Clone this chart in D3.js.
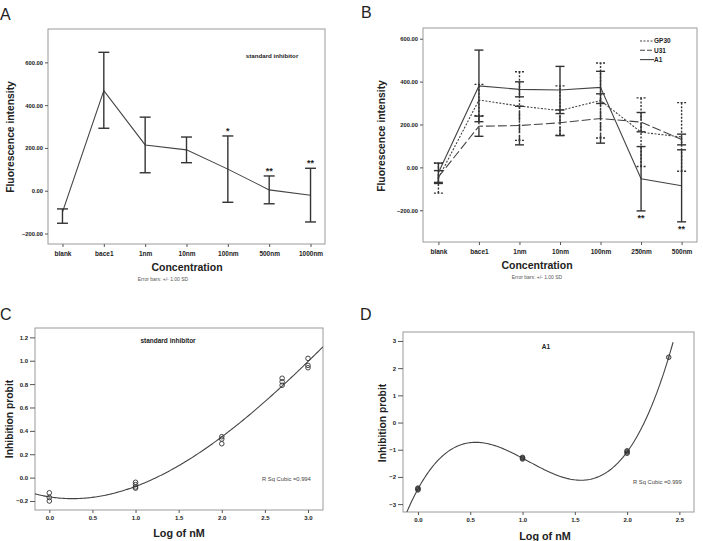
<!DOCTYPE html>
<html>
<head>
<meta charset="utf-8">
<script src="https://cdn.jsdelivr.net/npm/d3@7"></script>
<style>
  body { margin: 0; background: #fff; }
  svg { font-family: "Liberation Sans", Arial, sans-serif; }
</style>
</head>
<body>
<svg id="chart" width="703" height="541"></svg>
<script>
// ---- panel A: standard inhibitor
const categoriesA = ['blank', 'bace1', '1nm', '10nm', '100nm', '500nm', '1000nm'];
const meanA = [-100, 468, 214, 191, 101, 4, -21];
const lowA = [-152, 292, 84, 131, -54, -61, -146];
const highA = [-85, 647, 344, 251, 256, 69, 105];
const starsA = ['', '', '', '', '*', '**', '**'];

// ---- panel B: three compounds, mean +/- 1 SD
const categoriesB = ['blank', 'bace1', '1nm', '10nm', '100nm', '250nm', '500nm'];
const seriesB = ['GP30', 'U31', 'A1'];
const meanGP30 = [-50, 314, 286, 265, 312, 164, 142];
const sdGP30 = [70, 73, 160, 115, 175, 160, 160];
const meanU31 = [-45, 192, 195, 208, 228, 211, 130];
const sdU31 = [30, 47, 90, 60, 115, 45, 25];
const meanA1 = [-25, 380, 364, 361, 373, -53, -86];
const sdA1 = [45, 167, 35, 110, 75, 150, 168];
const starsB = ['', '', '', '', '', '**', '**'];

const ticksAB = [600, 400, 200, 0, -200];

// ---- panel C: probit vs log concentration, standard inhibitor
const logC = [0, 0, 0, 1, 1, 1, 1, 2, 2, 2, 2.7, 2.7, 2.7, 3, 3, 3];
const probitC = [-0.13, -0.17, -0.20, -0.04, -0.06, -0.08, -0.09, 0.35, 0.33, 0.29, 0.85, 0.82, 0.79, 1.02, 0.96, 0.94];
const ticksCy = [-0.2, 0, 0.2, 0.4, 0.6, 0.8, 1.0, 1.2];
const ticksCx = [0, 0.5, 1, 1.5, 2, 2.5, 3];

// ---- panel D: probit vs log concentration, A1
const logD = [0, 0, 0, 1, 1, 1, 2, 2, 2, 2.398];
const probitD = [-2.41, -2.44, -2.48, -1.28, -1.31, -1.34, -1.04, -1.08, -1.13, 2.40];
const ticksDy = [-3, -2, -1, 0, 1, 2, 3];
const ticksDx = [0, 0.5, 1, 1.5, 2, 2.5];

const svg = d3.select('#chart');
const ink = '#333';
const frameColor = '#9a9a9a';

function drawFrame(f) {
  svg.append('rect')
    .attr('x', f.x0).attr('y', f.y0)
    .attr('width', f.x1 - f.x0).attr('height', f.y1 - f.y0)
    .attr('fill', 'none').attr('stroke', frameColor).attr('stroke-width', 1);
}

function styleAxis(g, size) {
  g.select('.domain').remove();
  g.selectAll('line').attr('stroke', '#555');
  g.selectAll('text')
    .attr('fill', '#222')
    .attr('font-size', size)
    .attr('font-weight', 'bold');
}

function panelLabel(txt, x, y) {
  svg.append('text').attr('x', x).attr('y', y)
    .attr('font-size', 16).attr('fill', '#222').text(txt);
}

function axisTitles(xt, xx, xy, yt, yx, yy, size) {
  svg.append('text').attr('x', xx).attr('y', xy)
    .attr('text-anchor', 'middle').attr('font-weight', 'bold')
    .attr('font-size', size.x).attr('fill', '#222').text(xt);
  svg.append('text')
    .attr('transform', `translate(${yx},${yy}) rotate(-90)`)
    .attr('text-anchor', 'middle').attr('font-weight', 'bold')
    .attr('font-size', size.y).attr('fill', '#222').text(yt);
}

function errorBar(g, x, lo, hi, capW, dash) {
  const bar = g.append('g')
    .attr('stroke', ink).attr('stroke-width', 1.4)
    .attr('stroke-dasharray', dash);
  bar.append('line').attr('x1', x).attr('x2', x).attr('y1', lo).attr('y2', hi);
  bar.append('line').attr('x1', x - capW / 2).attr('x2', x + capW / 2).attr('y1', lo).attr('y2', lo);
  bar.append('line').attr('x1', x - capW / 2).attr('x2', x + capW / 2).attr('y1', hi).attr('y2', hi);
}

// least squares cubic fit (SPSS "Cubic" curve estimation)
function cubicFit(xs, ys) {
  const n = 4;
  const M = [];
  for (let i = 0; i < n; i++) {
    M.push([]);
    for (let j = 0; j < n; j++) M[i].push(d3.sum(xs, x => Math.pow(x, i + j)));
    M[i].push(d3.sum(xs, (x, k) => ys[k] * Math.pow(x, i)));
  }
  for (let c = 0; c < n; c++) {
    let p = c;
    for (let r = c + 1; r < n; r++) if (Math.abs(M[r][c]) > Math.abs(M[p][c])) p = r;
    [M[c], M[p]] = [M[p], M[c]];
    for (let r = 0; r < n; r++) {
      if (r === c) continue;
      const k = M[r][c] / M[c][c];
      for (let j = c; j <= n; j++) M[r][j] -= k * M[c][j];
    }
  }
  const coef = M.map((row, i) => row[n] / row[i]);
  return x => coef[0] + coef[1] * x + coef[2] * x * x + coef[3] * x * x * x;
}

// ================= Panel A =================
function drawA() {
  const f = { x0: 48, x1: 325, y0: 29, y1: 244 };
  const x = d3.scalePoint().domain(categoriesA).range([f.x0, f.x1]).padding(0.35);
  const y = d3.scaleLinear().domain([-249, 756]).range([f.y1, f.y0]);

  drawFrame(f);
  svg.append('g').attr('transform', `translate(${f.x0},0)`)
    .call(d3.axisLeft(y).tickValues(ticksAB).tickSize(3).tickPadding(2).tickFormat(d3.format('.2f')))
    .call(g => styleAxis(g, 5.8));
  svg.append('g').attr('transform', `translate(0,${f.y1})`)
    .call(d3.axisBottom(x).tickSize(3).tickPadding(4))
    .call(g => styleAxis(g, 6.5));

  const line = d3.line().x((d, i) => x(categoriesA[i])).y(d => y(d));
  svg.append('path').datum(meanA)
    .attr('d', line).attr('fill', 'none').attr('stroke', '#444').attr('stroke-width', 1.1);

  const g = svg.append('g');
  categoriesA.forEach((c, i) => {
    errorBar(g, x(c), y(lowA[i]), y(highA[i]), 11, null);
    if (starsA[i]) {
      svg.append('text').attr('x', x(c)).attr('y', y(highA[i]) - 2)
        .attr('text-anchor', 'middle').attr('font-size', 9).attr('font-weight', 'bold')
        .attr('fill', '#222').text(starsA[i]);
    }
  });

  svg.append('text').attr('x', 272).attr('y', 58).attr('text-anchor', 'middle')
    .attr('font-size', 6.2).attr('font-weight', 'bold').attr('fill', '#222').text('standard inhibitor');

  axisTitles('Concentration', 187, 271, 'Fluorescence intensity', 14, 137, { x: 10.5, y: 10.3 });
  svg.append('text').attr('x', 163).attr('y', 281).attr('text-anchor', 'middle')
    .attr('font-size', 5).attr('fill', '#555').text('Error bars: +/- 1.00 SD');
  panelLabel('A', 0, 20);
}

// ================= Panel B =================
function drawB() {
  const f = { x0: 423, x1: 697, y0: 28, y1: 242 };
  const x = d3.scalePoint().domain(categoriesB).range([f.x0, f.x1]).padding(0.38);
  const y = d3.scaleLinear().domain([-348, 650]).range([f.y1, f.y0]);

  drawFrame(f);
  svg.append('g').attr('transform', `translate(${f.x0},0)`)
    .call(d3.axisLeft(y).tickValues(ticksAB).tickSize(3).tickPadding(2).tickFormat(d3.format('.2f')))
    .call(g => styleAxis(g, 5.8));
  svg.append('g').attr('transform', `translate(0,${f.y1})`)
    .call(d3.axisBottom(x).tickSize(3).tickPadding(4))
    .call(g => styleAxis(g, 6.5));

  const means = { GP30: meanGP30, U31: meanU31, A1: meanA1 };
  const sds = { GP30: sdGP30, U31: sdU31, A1: sdA1 };
  const dashes = { GP30: '2,1.5', U31: '9,3', A1: null };

  const line = d3.line().x((d, i) => x(categoriesB[i])).y(d => y(d));
  seriesB.forEach(s => {
    svg.append('path').datum(means[s])
      .attr('d', line).attr('fill', 'none').attr('stroke', '#444')
      .attr('stroke-width', 1.1).attr('stroke-dasharray', dashes[s]);
    const g = svg.append('g');
    categoriesB.forEach((c, i) => {
      errorBar(g, x(c), y(means[s][i] - sds[s][i]), y(means[s][i] + sds[s][i]), 9, dashes[s]);
    });
  });

  categoriesB.forEach((c, i) => {
    if (starsB[i]) {
      svg.append('text').attr('x', x(c)).attr('y', y(meanA1[i] - sdA1[i]) + 10)
        .attr('text-anchor', 'middle').attr('font-size', 9).attr('font-weight', 'bold')
        .attr('fill', '#222').text(starsB[i]);
    }
  });

  // legend
  const leg = svg.append('g').attr('transform', 'translate(640,41)');
  seriesB.forEach((s, i) => {
    leg.append('line').attr('x1', 0).attr('x2', 14).attr('y1', i * 9.3).attr('y2', i * 9.3)
      .attr('stroke', '#444').attr('stroke-width', 1.1).attr('stroke-dasharray', dashes[s] ? (s === 'U31' ? '5,2' : '2,1.5') : null);
    leg.append('text').attr('x', 14).attr('y', i * 9.3 + 2.3)
      .attr('font-size', 6.5).attr('font-weight', 'bold').attr('fill', '#222').text(s);
  });

  axisTitles('Concentration', 537, 269, 'Fluorescence intensity', 385, 136, { x: 10.5, y: 10.3 });
  svg.append('text').attr('x', 537).attr('y', 279).attr('text-anchor', 'middle')
    .attr('font-size', 5).attr('fill', '#555').text('Error bars: +/- 1.00 SD');
  panelLabel('B', 361, 18);
}

// ================= Probit panels (C, D) =================
function drawProbit(opt) {
  const f = opt.frame;
  const x = d3.scaleLinear().domain(opt.xDomain).range([f.x0, f.x1]);
  const y = d3.scaleLinear().domain(opt.yDomain).range([f.y1, f.y0]);

  drawFrame(f);
  svg.append('g').attr('transform', `translate(${f.x0},0)`)
    .call(d3.axisLeft(y).tickValues(opt.yTicks).tickSize(5).tickPadding(2).tickFormat(opt.yFormat))
    .call(g => styleAxis(g, 6));
  svg.append('g').attr('transform', `translate(0,${f.y1})`)
    .call(d3.axisBottom(x).tickValues(opt.xTicks).tickSize(3).tickPadding(3).tickFormat(d3.format('.1f')))
    .call(g => styleAxis(g, 6));

  const clipId = 'clip' + opt.label;
  svg.append('clipPath').attr('id', clipId).append('rect')
    .attr('x', f.x0).attr('y', f.y0).attr('width', f.x1 - f.x0).attr('height', f.y1 - f.y0);

  const fit = cubicFit(opt.xs, opt.ys);
  const step = (opt.fitRange[1] - opt.fitRange[0]) / 200;
  const pts = d3.range(opt.fitRange[0], opt.fitRange[1] + step / 2, step).map(v => [v, fit(v)]);
  svg.append('path').datum(pts)
    .attr('clip-path', `url(#${clipId})`)
    .attr('d', d3.line().x(d => x(d[0])).y(d => y(d[1])))
    .attr('fill', 'none').attr('stroke', '#444').attr('stroke-width', 1.1);

  svg.append('g').selectAll('circle').data(opt.xs).join('circle')
    .attr('cx', d => x(d)).attr('cy', (d, i) => y(opt.ys[i]))
    .attr('r', 2.3).attr('fill', '#333').attr('fill-opacity', opt.pointFill)
    .attr('stroke', '#333').attr('stroke-width', 0.9);

  svg.append('text').attr('x', opt.title[1]).attr('y', opt.title[2]).attr('text-anchor', 'middle')
    .attr('font-size', 6.5).attr('font-weight', 'bold').attr('fill', '#222').text(opt.title[0]);
  svg.append('text').attr('x', opt.rsq[1]).attr('y', opt.rsq[2])
    .attr('font-size', 5.8).attr('fill', '#444').text(opt.rsq[0]);

  axisTitles('Log of nM', opt.xTitle[0], opt.xTitle[1], 'Inhibition probit', opt.yTitle[0], opt.yTitle[1], { x: 10.8, y: 10.3 });
  panelLabel(opt.label, opt.labelPos[0], opt.labelPos[1]);
}

drawA();
drawB();

drawProbit({
  label: 'C', labelPos: [0, 320],
  frame: { x0: 35, x1: 323, y0: 328, y1: 510 },
  xDomain: [-0.166, 3.174], yDomain: [-0.277, 1.28],
  xTicks: ticksCx, yTicks: ticksCy, yFormat: d3.format('.1f'),
  xs: logC, ys: probitC, fitRange: [-0.166, 3.174], pointFill: 0,
  title: ['standard inhibitor', 168, 343],
  rsq: ['R Sq Cubic =0.994', 262, 480.5],
  xTitle: [179, 537], yTitle: [13, 419]
});

drawProbit({
  label: 'D', labelPos: [360, 320],
  frame: { x0: 403, x1: 694, y0: 332, y1: 512 },
  xDomain: [-0.143, 2.64], yDomain: [-3.29, 3.33],
  xTicks: ticksDx, yTicks: ticksDy, yFormat: d3.format('d'),
  xs: logD, ys: probitD, fitRange: [-0.143, 2.44], pointFill: 0.3,
  title: ['A1', 546, 349],
  rsq: ['R Sq Cubic =0.999', 633, 484],
  xTitle: [545, 540], yTitle: [386, 423]
});
</script>
</body>
</html>
